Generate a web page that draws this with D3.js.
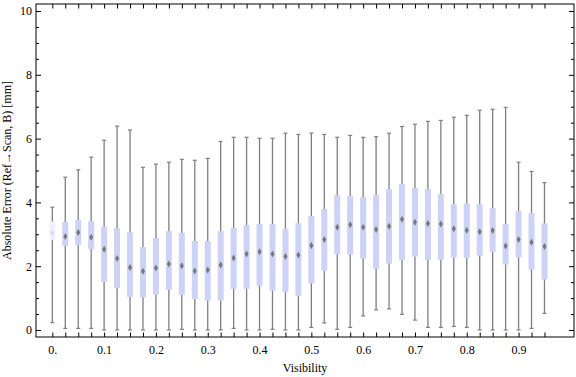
<!DOCTYPE html>
<html lang="en">
<head>
    <meta charset="UTF-8">
    <title>Box Whisker</title>
    <style>
        body { margin: 0; background: #fff; }
        text { font-family: "Liberation Serif", "DejaVu Serif", serif; }
    </style>
</head>
<body>
<script type='text/javascript' src='https://d3js.org/d3.v7.min.js'></script>
<script>
    // box positions on the visibility axis
    const visibility = [0, 0.025, 0.05, 0.075, 0.1, 0.125, 0.15, 0.175, 0.2, 0.225,
        0.25, 0.275, 0.3, 0.325, 0.35, 0.375, 0.4, 0.425, 0.45, 0.475,
        0.5, 0.525, 0.55, 0.575, 0.6, 0.625, 0.65, 0.675, 0.7, 0.725,
        0.75, 0.775, 0.8, 0.825, 0.85, 0.875, 0.9, 0.925, 0.95];
    // whisker ends, quartiles and median (mm)
    const whiskerLow = [0.23, 0.05, 0.05, 0.05, 0.00, 0.00, 0.00, 0.00, 0.00, 0.00,
        0.02, 0.00, 0.00, 0.00, 0.05, 0.00, 0.00, 0.02, 0.00, 0.00,
        0.08, 0.22, 0.02, 0.08, 0.44, 0.63, 0.66, 0.49, 0.31, 0.08,
        0.08, 0.11, 0.08, 0.00, 0.00, 0.00, 0.00, 0.05, 0.52];
    const q1 = [2.82, 2.64, 2.67, 2.54, 1.51, 1.31, 1.04, 1.02, 1.11, 1.26,
        1.10, 0.97, 0.92, 0.92, 1.29, 1.29, 1.38, 1.23, 1.19, 1.07,
        1.46, 1.86, 2.37, 2.37, 2.24, 1.92, 2.08, 2.20, 2.30, 2.20,
        2.20, 2.27, 2.25, 2.33, 2.45, 2.05, 2.27, 1.89, 1.58];
    const median = [3.03, 2.93, 3.06, 2.91, 2.53, 2.24, 1.96, 1.84, 1.94, 2.07,
        2.01, 1.85, 1.88, 2.04, 2.26, 2.38, 2.45, 2.38, 2.30, 2.35,
        2.65, 2.84, 3.22, 3.30, 3.22, 3.15, 3.25, 3.47, 3.38, 3.34,
        3.32, 3.17, 3.13, 3.08, 3.12, 2.63, 2.84, 2.75, 2.62];
    const q3 = [3.40, 3.39, 3.45, 3.41, 3.23, 3.19, 3.06, 2.60, 2.88, 3.10,
        3.04, 2.79, 2.79, 3.10, 3.20, 3.29, 3.32, 3.32, 3.17, 3.35,
        3.57, 3.79, 4.23, 4.20, 4.17, 4.23, 4.42, 4.58, 4.45, 4.42,
        4.26, 3.94, 3.97, 3.94, 3.82, 3.32, 3.73, 3.67, 3.34];
    const whiskerHigh = [3.85, 4.79, 5.02, 5.42, 5.95, 6.39, 6.27, 5.10, 5.20, 5.26,
        5.35, 5.32, 5.38, 5.91, 6.04, 6.04, 6.01, 6.01, 6.17, 6.13,
        6.17, 6.13, 6.04, 6.10, 6.04, 6.06, 6.17, 6.38, 6.45, 6.54,
        6.57, 6.67, 6.73, 6.89, 6.92, 6.98, 5.26, 4.97, 4.62];

    const xLabels = [0, 0.1, 0.2, 0.3, 0.4, 0.5, 0.6, 0.7, 0.8, 0.9];
    const yLabels = [0, 2, 4, 6, 8, 10];
    const yMinor = [0.5, 1, 1.5, 2.5, 3, 3.5, 4.5, 5, 5.5, 6.5, 7, 7.5, 8.5, 9, 9.5];

    const width = 576, height = 377;
    const frameLeft = 36, frameRight = 574, frameTop = 4, frameBottom = 337;

    const data = visibility.map((v, i) => ({
        v: v, lo: whiskerLow[i], q1: q1[i], med: median[i], q3: q3[i], hi: whiskerHigh[i]
    }));

    const svg = d3.select("body").append("svg")
        .attr("width", width)
        .attr("height", height);

    const x = d3.scaleLinear().domain([-0.0315, 1.007]).range([frameLeft, frameRight]);
    const y = d3.scaleLinear().domain([-0.22, 10.22]).range([frameBottom, frameTop]);

    // whiskers
    svg.append("g").selectAll("line")
        .data(data).enter().append("line")
        .attr("x1", d => x(d.v)).attr("x2", d => x(d.v))
        .attr("y1", d => y(d.lo)).attr("y2", d => y(d.hi))
        .attr("stroke", "#7f7f7f").attr("stroke-width", 1.3);

    // caps
    ["lo", "hi"].forEach(k => {
        svg.append("g").selectAll("line")
            .data(data).enter().append("line")
            .attr("x1", d => x(d.v) - 2).attr("x2", d => x(d.v) + 2)
            .attr("y1", d => y(d[k])).attr("y2", d => y(d[k]))
            .attr("stroke", "#7f7f7f").attr("stroke-width", 1.2);
    });

    // boxes
    svg.append("g").selectAll("rect")
        .data(data).enter().append("rect")
        .attr("x", d => x(d.v) - 3)
        .attr("width", 6)
        .attr("y", d => y(d.q3))
        .attr("height", d => y(d.q1) - y(d.q3))
        .attr("fill", (d, i) => i === 0 ? "#eff1fc" : "#cdd3f6");

    // median diamonds
    svg.append("g").selectAll("path")
        .data(data).enter().append("path")
        .attr("d", d => {
            const cx = x(d.v), cy = y(d.med);
            return `M${cx},${cy - 3.5}L${cx + 2},${cy}L${cx},${cy + 3.5}L${cx - 2},${cy}Z`;
        })
        .attr("fill", (d, i) => i === 0 ? "#dcdcdc" : "#777");

    // frame ticks (all pointing inwards)
    function clean(g) {
        g.select(".domain").remove();
        g.selectAll("line").attr("stroke", "#000");
        g.selectAll("text")
            .attr("fill", "#000")
            .style("font-size", "12px")
            .style("font-family", "'Liberation Serif', serif");
    }

    svg.append("g")
        .attr("transform", `translate(0,${frameBottom})`)
        .call(d3.axisBottom(x).tickValues(visibility).tickSize(-4.5).tickPadding(8)
            .tickFormat(v => {
                const m = xLabels.find(t => Math.abs(t - v) < 1e-9);
                if (m === undefined) return "";
                return m === 0 ? "0." : d3.format(".1f")(m);
            }))
        .call(clean);

    svg.append("g")
        .attr("transform", `translate(0,${frameTop})`)
        .call(d3.axisTop(x).tickValues(visibility).tickSize(-4.5).tickFormat(""))
        .call(clean);

    svg.append("g")
        .attr("transform", `translate(${frameLeft},0)`)
        .call(d3.axisLeft(y).tickValues(yLabels).tickSize(-5).tickPadding(4).tickFormat(d3.format("d")))
        .call(clean);
    svg.append("g")
        .attr("transform", `translate(${frameLeft},0)`)
        .call(d3.axisLeft(y).tickValues(yMinor).tickSize(-3).tickFormat(""))
        .call(clean);

    svg.append("g")
        .attr("transform", `translate(${frameRight},0)`)
        .call(d3.axisRight(y).tickValues(yLabels).tickSize(-5).tickFormat(""))
        .call(clean);
    svg.append("g")
        .attr("transform", `translate(${frameRight},0)`)
        .call(d3.axisRight(y).tickValues(yMinor).tickSize(-3).tickFormat(""))
        .call(clean);

    // frame
    svg.append("rect")
        .attr("x", frameLeft).attr("y", frameTop)
        .attr("width", frameRight - frameLeft).attr("height", frameBottom - frameTop)
        .attr("fill", "none").attr("stroke", "#000").attr("stroke-width", 1);

    // axis titles
    svg.append("text")
        .attr("x", (frameLeft + frameRight) / 2)
        .attr("y", 372)
        .attr("text-anchor", "middle")
        .style("font-size", "12px")
        .text("Visibility");

    svg.append("text")
        .attr("transform", `translate(11,${(frameTop + frameBottom) / 2}) rotate(-90)`)
        .attr("text-anchor", "middle")
        .style("font-size", "12px")
        .text("Absolute Error (Ref\u2192Scan, B) [mm]");
</script>
</body>
</html>
